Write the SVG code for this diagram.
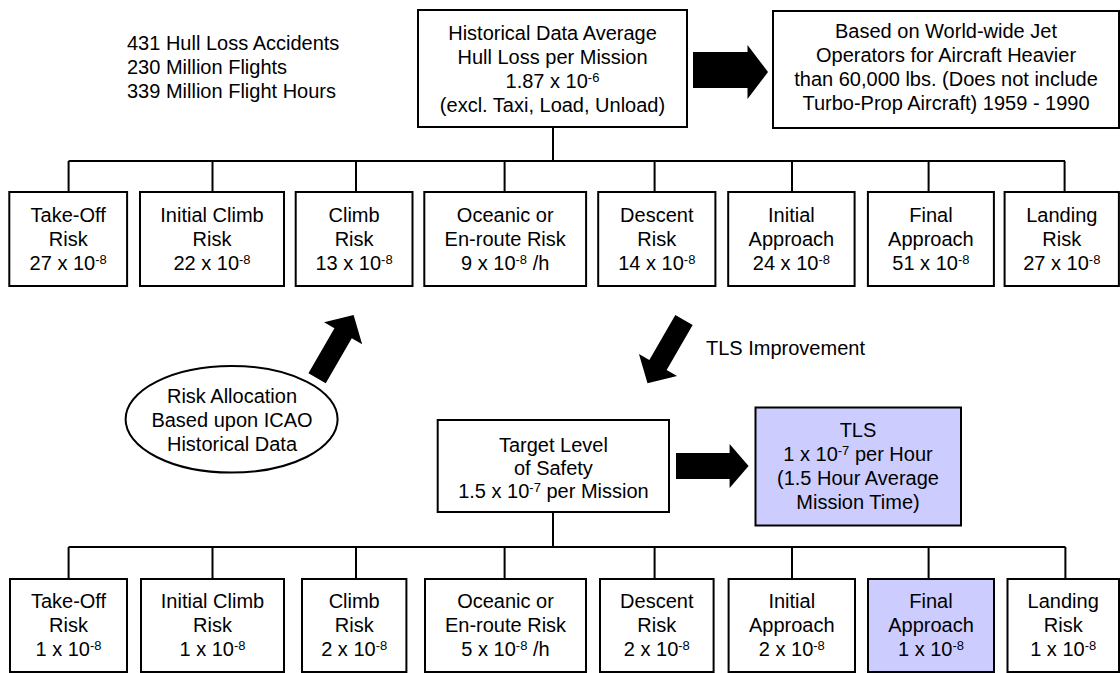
<svg xmlns="http://www.w3.org/2000/svg" width="1120" height="673" viewBox="0 0 1120 673">
<style>
text{font-family:"Liberation Sans",Arial,sans-serif;font-size:20px;fill:#000}
.c{text-anchor:middle}
.box{fill:#fff;stroke:#000;stroke-width:2}
.hl{fill:#ccccff;stroke:#000;stroke-width:2}
.ln{fill:none;stroke:#000;stroke-width:2}
.sup{font-size:13px}
.big{fill:#000}
</style>
<defs>
<polygon id="slant" points="0,0 22,21 10,21 10,73 -10,73 -10,21 -22,21"/>
</defs>
<g id="connectors">
<path class="ln" d="M553,127V161M68.6,161H1065M68.6,161V192M212.5,161V192M356,161V192M504.6,161V192M654.6,161V192M792,161V192M928.6,161V192M1064.6,161V192"/>
<path class="ln" d="M553,512V547M68.6,547H1065.4M68.6,547V579M212.5,547V579M356,547V579M504.6,547V579M654.6,547V579M792,547V579M928.6,547V579M1065.4,547V579"/>
<polygon class="big" points="693,52 747.5,52 747.5,45 768,72 747.5,99 747.5,88 693,88"/>
<polygon class="big" points="676,453 729.6,453 729.6,444 748.6,466 729.6,488 729.6,479 676,479"/>
<use href="#slant" transform="translate(353.6,315) rotate(30)"/>
<use href="#slant" transform="translate(647.5,383.3) rotate(210)"/>
<text x="706" y="355">TLS Improvement</text>
</g>
<g id="stats">
<text x="127" y="50">431 Hull Loss Accidents</text>
<text x="127" y="74">230 Million Flights</text>
<text x="127" y="98">339 Million Flight Hours</text>
</g>
<g id="historical">
<rect class="box" x="418" y="10" width="269" height="117"/>
<text class="c" x="552.5" y="40">Historical Data Average</text>
<text class="c" x="552.5" y="64">Hull Loss per Mission</text>
<text class="c" x="552.5" y="88">1.87 x 10<tspan class="sup" dy="-6">-6</tspan></text>
<text class="c" x="552.5" y="112">(excl. Taxi, Load, Unload)</text>
</g>
<g id="basis">
<rect class="box" x="773" y="11" width="346" height="117"/>
<text class="c" x="946" y="38">Based on World-wide Jet</text>
<text class="c" x="946" y="62">Operators for Aircraft Heavier</text>
<text class="c" x="946" y="86">than 60,000 lbs. (Does not include</text>
<text class="c" x="946" y="110">Turbo-Prop Aircraft) 1959 - 1990</text>
</g>
<g id="h1">
<rect class="box" x="9.3" y="192" width="117.8" height="94"/>
<text class="c" x="68.2" y="222">Take-Off</text><text class="c" x="68.2" y="246">Risk</text>
<text class="c" x="68.2" y="270">27 x 10<tspan class="sup" dy="-6">-8</tspan></text>
</g>
<g id="h2">
<rect class="box" x="140" y="192" width="144" height="94"/>
<text class="c" x="212" y="222">Initial Climb</text><text class="c" x="212" y="246">Risk</text>
<text class="c" x="212" y="270">22 x 10<tspan class="sup" dy="-6">-8</tspan></text>
</g>
<g id="h3">
<rect class="box" x="295.7" y="192" width="116.8" height="94"/>
<text class="c" x="354.1" y="222">Climb</text><text class="c" x="354.1" y="246">Risk</text>
<text class="c" x="354.1" y="270">13 x 10<tspan class="sup" dy="-6">-8</tspan></text>
</g>
<g id="h4">
<rect class="box" x="424.3" y="192" width="161.8" height="94"/>
<text class="c" x="505.2" y="222">Oceanic or</text><text class="c" x="505.2" y="246">En-route Risk</text>
<text class="c" x="505.2" y="270">9 x 10<tspan class="sup" dy="-6">-8</tspan><tspan dy="6"> /h</tspan></text>
</g>
<g id="h5">
<rect class="box" x="598.2" y="192" width="117.2" height="94"/>
<text class="c" x="656.8" y="222">Descent</text><text class="c" x="656.8" y="246">Risk</text>
<text class="c" x="656.8" y="270">14 x 10<tspan class="sup" dy="-6">-8</tspan></text>
</g>
<g id="h6">
<rect class="box" x="728.2" y="192" width="126.4" height="94"/>
<text class="c" x="791.4" y="222">Initial</text><text class="c" x="791.4" y="246">Approach</text>
<text class="c" x="791.4" y="270">24 x 10<tspan class="sup" dy="-6">-8</tspan></text>
</g>
<g id="h7">
<rect class="box" x="867.9" y="192" width="126" height="94"/>
<text class="c" x="930.9" y="222">Final</text><text class="c" x="930.9" y="246">Approach</text>
<text class="c" x="930.9" y="270">51 x 10<tspan class="sup" dy="-6">-8</tspan></text>
</g>
<g id="h8">
<rect class="box" x="1004.6" y="192" width="114.3" height="94"/>
<text class="c" x="1061.8" y="222">Landing</text><text class="c" x="1061.8" y="246">Risk</text>
<text class="c" x="1061.8" y="270">27 x 10<tspan class="sup" dy="-6">-8</tspan></text>
</g>
<g id="allocation">
<ellipse class="box" cx="231.6" cy="419.3" rx="106" ry="53.3"/>
<text class="c" x="232" y="403">Risk Allocation</text>
<text class="c" x="232" y="427">Based upon ICAO</text>
<text class="c" x="232" y="451">Historical Data</text>
</g>
<g id="target">
<rect class="box" x="437.7" y="420" width="231.3" height="92"/>
<text class="c" x="553.4" y="452">Target Level</text>
<text class="c" x="553.4" y="475">of Safety</text>
<text class="c" x="553.4" y="498">1.5 x 10<tspan class="sup" dy="-6">-7</tspan><tspan dy="6"> per Mission</tspan></text>
</g>
<g id="tls">
<rect class="hl" x="755.5" y="407.5" width="205.5" height="118"/>
<text class="c" x="858" y="437">TLS</text>
<text class="c" x="858" y="461">1 x 10<tspan class="sup" dy="-6">-7</tspan><tspan dy="6"> per Hour</tspan></text>
<text class="c" x="858" y="485">(1.5 Hour Average</text>
<text class="c" x="858" y="509">Mission Time)</text>
</g>
<g id="t1">
<rect class="box" x="10" y="579" width="117" height="93"/>
<text class="c" x="68.5" y="608">Take-Off</text><text class="c" x="68.5" y="632">Risk</text>
<text class="c" x="68.5" y="656">1 x 10<tspan class="sup" dy="-6">-8</tspan></text>
</g>
<g id="t2">
<rect class="box" x="141" y="579" width="143" height="93"/>
<text class="c" x="212.5" y="608">Initial Climb</text><text class="c" x="212.5" y="632">Risk</text>
<text class="c" x="212.5" y="656">1 x 10<tspan class="sup" dy="-6">-8</tspan></text>
</g>
<g id="t3">
<rect class="box" x="302" y="579" width="104.4" height="93"/>
<text class="c" x="354.2" y="608">Climb</text><text class="c" x="354.2" y="632">Risk</text>
<text class="c" x="354.2" y="656">2 x 10<tspan class="sup" dy="-6">-8</tspan></text>
</g>
<g id="t4">
<rect class="box" x="425" y="579" width="161" height="93"/>
<text class="c" x="505.5" y="608">Oceanic or</text><text class="c" x="505.5" y="632">En-route Risk</text>
<text class="c" x="505.5" y="656">5 x 10<tspan class="sup" dy="-6">-8</tspan><tspan dy="6"> /h</tspan></text>
</g>
<g id="t5">
<rect class="box" x="600" y="579" width="113.6" height="93"/>
<text class="c" x="656.8" y="608">Descent</text><text class="c" x="656.8" y="632">Risk</text>
<text class="c" x="656.8" y="656">2 x 10<tspan class="sup" dy="-6">-8</tspan></text>
</g>
<g id="t6">
<rect class="box" x="728.6" y="579" width="126.4" height="93"/>
<text class="c" x="791.8" y="608">Initial</text><text class="c" x="791.8" y="632">Approach</text>
<text class="c" x="791.8" y="656">2 x 10<tspan class="sup" dy="-6">-8</tspan></text>
</g>
<g id="t7">
<rect class="hl" x="868" y="579" width="126" height="93"/>
<text class="c" x="931" y="608">Final</text><text class="c" x="931" y="632">Approach</text>
<text class="c" x="931" y="656">1 x 10<tspan class="sup" dy="-6">-8</tspan></text>
</g>
<g id="t8">
<rect class="box" x="1007.5" y="579" width="111.5" height="93"/>
<text class="c" x="1063.2" y="608">Landing</text><text class="c" x="1063.2" y="632">Risk</text>
<text class="c" x="1063.2" y="656">1 x 10<tspan class="sup" dy="-6">-8</tspan></text>
</g>
</svg>
